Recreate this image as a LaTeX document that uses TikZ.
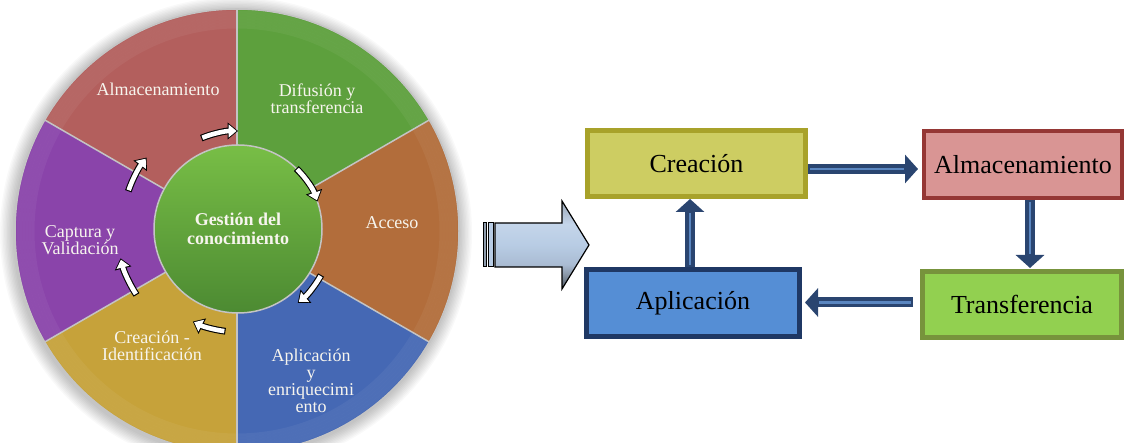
\documentclass[tikz,border=0pt]{standalone}
\usepackage{fontspec}
\setmainfont{Liberation Serif}
\usetikzlibrary{arrows.meta,calc}
\definecolor{cAlm}{HTML}{B35F5D}
\definecolor{cDif}{HTML}{5DA03D}
\definecolor{cAcc}{HTML}{B26D3B}
\definecolor{cApl}{HTML}{4568B4}
\definecolor{cCre}{HTML}{C6A23A}
\definecolor{cCap}{HTML}{8A44AA}
\definecolor{cCoreT}{HTML}{78BE46}
\definecolor{cCoreB}{HTML}{4C8A32}
\definecolor{cLine}{HTML}{C4C4C4}
\definecolor{cTxt}{HTML}{F7F5EE}
\definecolor{bCreF}{HTML}{CDCD62}
\definecolor{bCreD}{HTML}{A8A22A}
\definecolor{bAlmF}{HTML}{D99594}
\definecolor{bAlmD}{HTML}{953735}
\definecolor{bTraF}{HTML}{92D050}
\definecolor{bTraD}{HTML}{77933C}
\definecolor{bAplF}{HTML}{558ED5}
\definecolor{bAplD}{HTML}{1F3864}
\definecolor{cNavy}{HTML}{2A4570}
\definecolor{cStripe}{HTML}{5A86C0}
\definecolor{cBigM}{HTML}{B8CCE4}
\definecolor{gA}{HTML}{4E5762}
\definecolor{gB}{HTML}{8E9CAD}
\definecolor{gC}{HTML}{AABCD3}
\definecolor{gD}{HTML}{C4D5EA}
\definecolor{gE}{HTML}{9AA7B7}
\pgfdeclareverticalshading{bigarr}{100bp}{color(0bp)=(gA); color(25bp)=(gA); color(34bp)=(gB); color(39bp)=(gC); color(50bp)=(cBigM); color(62bp)=(gD); color(75bp)=(gE); color(100bp)=(gE)}
\begin{document}
\begin{tikzpicture}[x=1pt,y=1pt,
  sectline/.style={draw=cLine,line width=1.5pt},
  sectlabel/.style={text=cTxt,align=center,font=\fontsize{18}{17}\selectfont,inner sep=0pt},
  cwout/.style={draw=black,line width=6.8pt,-{Triangle[length=10.5pt,width=16.5pt]}},
  cwin/.style={draw=white,line width=4.6pt,-{Triangle[length=8pt,width=12.6pt]},shorten >=1.4pt,shorten <=1.1pt},
  boxnode/.style={draw,line width=5pt,inner sep=0pt,font=\fontsize{26}{30}\selectfont,text=black},
  barrow/.style={draw=cNavy,line width=10pt,-{Triangle[length=13pt,width=28pt]}},
  bstripe/.style={draw=cStripe,line width=2.5pt}]
\useasboundingbox (0,0) rectangle (1124,443);
\fill[white] (0,0) rectangle (1124,443);
\coordinate (C) at (237,212);
% soft shadow
\foreach \i in {1,...,10} \fill[black,opacity=0.025] ($(C)+(-1,-2)$) circle[radius=222+\i*1.4];
% sectors
\foreach \a/\b/\c in {30/90/cDif,90/150/cAlm,150/210/cCap,210/270/cCre,270/330/cApl,-30/30/cAcc}
  \fill[\c] (C) -- ++(\a:222) arc[start angle=\a,end angle=\b,radius=222] -- cycle;
% light bevel near rim
\foreach \i in {0,...,5} \draw[white,opacity=0.05,line width=3pt] (C) circle[radius=219-\i*3];
\foreach \a in {30,90,150,210,270,330} \draw[sectline] (C) -- ++(\a:222);
\draw[sectline] (C) circle[radius=222];
% labels
\node[sectlabel] (lalm) at (158,354) {Almacenamiento};
\node[sectlabel] (ldif) at (317,344) {Difusión y\\transferencia};
\node[sectlabel] (lacc) at (392,220) {Acceso};
\node[sectlabel] (lapl) at (311,62) {\fontsize{18}{19.5}\selectfont Aplicación\\y\\enriquecimi\\ento};
\node[sectlabel] (lcre) at (152,97) {Creación -\\Identificación};
\node[sectlabel] (lcap) at (80,203) {Captura y\\Validación};
% core
\node[circle,minimum size=168pt,inner sep=0pt,top color=cCoreT,bottom color=cCoreB,draw=cLine,line width=1.5pt,
      text=cTxt,align=center,font=\fontsize{18}{19}\selectfont\bfseries] (core) at (238,214) {Gestión del\\conocimiento};
% curved arrows
\foreach \s/\e/\r in {112/90/98,46/19/84,-29/-51/95,-97/-116/103,-147/-166/121,161/142/116}{
  \draw[cwout] ($(core.center)+(\s:\r)$) arc[start angle=\s,end angle=\e,radius=\r];
  \draw[cwin] ($(core.center)+(\s:\r)$) arc[start angle=\s,end angle=\e,radius=\r];
}
% big arrow
\shade[shading=bigarr,draw=black,line width=1.2pt]
  (495,176) -- (562,176) -- (562,154) -- (589,198) -- (562,242) -- (562,220) -- (495,220) -- cycle;
\filldraw[fill=gB,draw=black,line width=1pt] (483.5,176) rectangle (486.5,220);
\filldraw[fill=cBigM,draw=black,line width=1pt] (488.5,176) rectangle (493.5,220);
% boxes
\node[boxnode,draw=bCreD,fill=bCreF,minimum width=218pt,minimum height=66pt] (crea) at (696.5,279.5) {Creación};
\node[boxnode,draw=bAlmD,fill=bAlmF,line width=4pt,minimum width=198pt,minimum height=67pt] (alma) at (1023,278.5) {Almacenamiento};
\node[boxnode,draw=bTraD,fill=bTraF,minimum width=199pt,minimum height=66pt] (trans) at (1022,138.5) {Transferencia};
\node[boxnode,draw=bAplD,fill=bAplF,minimum width=213pt,minimum height=67pt] (apl) at (693,140) {Aplicación};
% block arrows
\draw[barrow,shorten >=4pt] ([yshift=-5.5pt]crea.east) -- ([yshift=-5.5pt]crea.east -| alma.west);
\draw[bstripe,shorten <=2pt,shorten >=18pt] ([yshift=-5.5pt]crea.east) -- ([yshift=-5.5pt]crea.east -| alma.west);
\draw[barrow,shorten >=1pt] ([xshift=7pt]alma.south) -- ([xshift=7pt]alma.south |- trans.north);
\draw[bstripe,shorten <=2pt,shorten >=15pt] ([xshift=7pt]alma.south) -- ([xshift=7pt]alma.south |- trans.north);
\draw[barrow,shorten <=7pt,shorten >=3pt] ([yshift=2pt]trans.west) -- ([yshift=2pt]trans.west -| apl.east);
\draw[bstripe,shorten <=9pt,shorten >=17pt] ([yshift=2pt]trans.west) -- ([yshift=2pt]trans.west -| apl.east);
\draw[barrow] ([xshift=-3pt]apl.north) -- ([xshift=-3pt]apl.north |- crea.south);
\draw[bstripe,shorten <=2pt,shorten >=14pt] ([xshift=-3pt]apl.north) -- ([xshift=-3pt]apl.north |- crea.south);
\end{tikzpicture}
\end{document}
